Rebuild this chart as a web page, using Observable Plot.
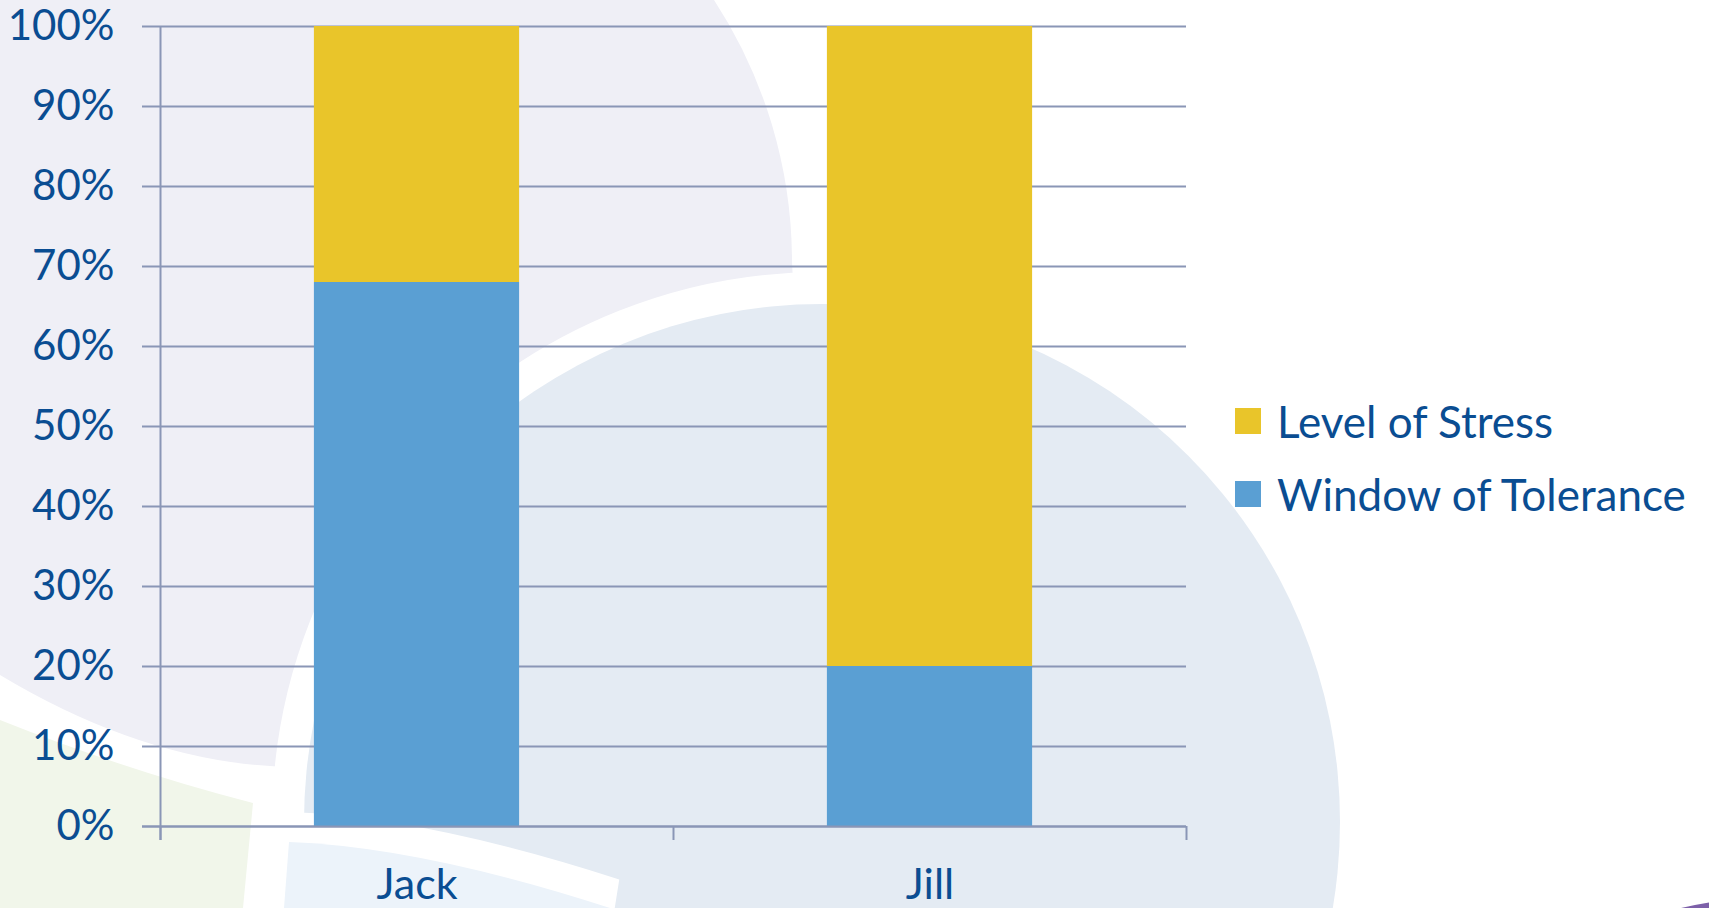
<!DOCTYPE html>
<html>
<head>
<meta charset="utf-8">
<script src="https://cdn.jsdelivr.net/npm/d3@7"></script>
<script src="https://cdn.jsdelivr.net/npm/@observablehq/plot@0.6"></script>
<style>
  html, body { margin: 0; padding: 0; background: #ffffff; overflow: hidden; }
  #wrap { position: relative; width: 1709px; height: 908px; font-family: Lato, "Open Sans", sans-serif; color: #0A4D92; }
  #bg, #chart { position: absolute; left: 0; top: 0; }
  #legend { position: absolute; left: 1235px; top: 384px; }
  .row { display: flex; align-items: center; height: 73px; font-size: 44px; white-space: nowrap; }
  .sw { width: 26px; height: 26px; margin-right: 16px; flex: none; }
</style>
</head>
<body>
<div id="wrap">
  <svg id="bg" width="1709" height="908"></svg>
  <div id="chart"></div>
  <div id="legend"></div>
</div>
<script>
// ---- data ----
const categories = ["Jack", "Jill"];
const seriesNames = ["Window of Tolerance", "Level of Stress"];
const windowOfTolerance = [68, 20];
const levelOfStress = [32, 80];
const yTicks = [0, 10, 20, 30, 40, 50, 60, 70, 80, 90, 100];
const legendOrder = ["Level of Stress", "Window of Tolerance"];

// ---- styles ----
const seriesColors = ["#5A9FD3", "#E9C52A"];
const gridColor = "#8A96B6";
const textColor = "#0A4D92";

// ---- decorative background (template shapes) ----
const bg = d3.select("#bg");
bg.append("path").attr("d", "M0,0 L714,0 A479,479 0 0 1 792,262 L800,420 L300,720 L293,767 Q150,765 0,675 Z").attr("fill", "#EFEFF6");
bg.append("path").attr("d", "M0,720 Q125,770 253,803 L243,908 L0,908 Z").attr("fill", "#F1F6EA");
bg.append("circle").attr("cx", 822).attr("cy", 822).attr("r", 518)
  .attr("fill", "#E4EBF3").attr("stroke", "#ffffff").attr("stroke-width", 64).attr("paint-order", "stroke");
bg.append("path").attr("d", "M289,842 Q422,847 610,908 L284,908 Z")
  .attr("fill", "#ECF3FA").attr("stroke", "#ffffff").attr("stroke-width", 60).attr("paint-order", "stroke");
bg.append("circle").attr("cx", 1755).attr("cy", 1207).attr("r", 308).attr("fill", "#7D60A9");

// ---- table ----
const rows = [];
seriesNames.forEach((s, j) => {
  const vals = j === 0 ? windowOfTolerance : levelOfStress;
  categories.forEach((c, i) => rows.push({category: c, index: i, series: s, value: vals[i]}));
});
const n = categories.length;

const chart = Plot.plot({
  width: 1709,
  height: 908,
  marginLeft: 160,
  marginRight: 523,
  marginTop: 26,
  marginBottom: 82,
  style: {background: "transparent", fontFamily: "Lato, 'Open Sans', sans-serif", fontSize: "42px", color: textColor, overflow: "visible"},
  x: {type: "linear", domain: [0, n]},
  y: {domain: [0, 100]},
  color: {domain: seriesNames, range: seriesColors},
  marks: [
    Plot.ruleY(yTicks, {x1: 0, x2: n, insetLeft: -18, stroke: gridColor, strokeWidth: 2}),
    Plot.rectY(rows, {x1: d => d.index + 0.3, x2: d => d.index + 0.7, y: "value", fill: "series"}),
    Plot.ruleY([0], {x1: 0, x2: n, insetLeft: -18, stroke: gridColor, strokeWidth: 2}),
    Plot.ruleX([0], {y1: 100, y2: 0, insetBottom: -14, stroke: gridColor, strokeWidth: 2}),
    Plot.ruleX(d3.range(n + 1), {y1: 0, y2: 0, insetBottom: -14, stroke: gridColor, strokeWidth: 2}),
    Plot.axisY(yTicks, {tickSize: 0, tickPadding: 46, tickFormat: d => d + "%", label: null, fontSize: 42}),
    Plot.axisX(categories.map((c, i) => i + 0.5), {tickSize: 0, tickPadding: 42, tickFormat: d => categories[Math.floor(d)], label: null, fontSize: 43})
  ]
});
document.getElementById("chart").appendChild(chart);

// ---- legend ----
const legend = d3.select("#legend");
legendOrder.forEach(name => {
  const row = legend.append("div").attr("class", "row");
  row.append("div").attr("class", "sw").style("background", seriesColors[seriesNames.indexOf(name)]);
  row.append("span").text(name);
});
</script>
</body>
</html>
